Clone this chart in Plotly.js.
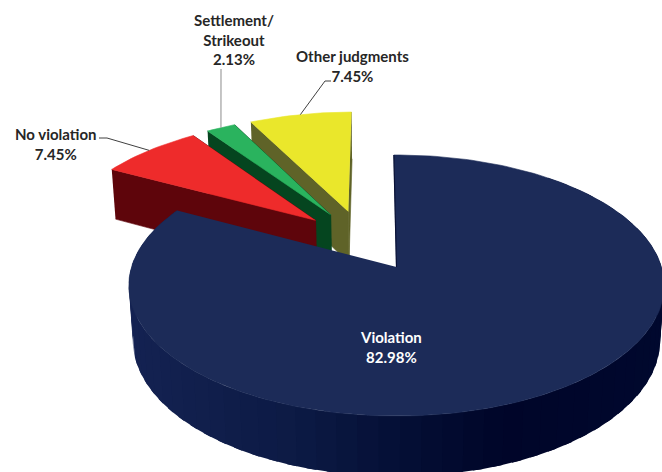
<!DOCTYPE html>
<html>
<head>
<meta charset="utf-8">
<script src="https://cdn.plot.ly/plotly-3.0.1.min.js"></script>
<style>html,body{margin:0;padding:0;background:#fff}#chart{width:662px;height:472px}</style>
</head>
<body>
<div id="chart"></div>
<script>
// Data, clockwise from 12 o'clock
const categories = ['Violation', 'No violation', 'Settlement/<br>Strikeout', 'Other judgments'];
const values = [82.98, 7.45, 2.13, 7.45];
const topColors = ['#1c2b58', '#ee2b2b', '#2ab35e', '#eae72b'];
const wallColors = ['#0b1640', '#5e050b', '#05451f', '#5f6328'];
const textColors = ['#ffffff', '#262626', '#262626', '#262626'];

// Camera model of the tilted, exploded pie
const CX = 396.5, CY = 267, RX = 265, RY = 127.9, K = 0.1418;
const HD = 55, MD = 0.015, EXPLODE = 0.254, START = -0.65;
const rad = d => d * Math.PI / 180;
function project(u, v, low) {
  const f = 1 / (1 + K * v + (low ? MD : 0));
  return [CX + RX * u * f, CY + ((low ? HD : 0) - RY * v) * f];
}

const total = values.reduce((a, b) => a + b, 0);
let acc = 0;
const slices = values.map(val => {
  const a0 = acc / total * 360; acc += val; const a1 = acc / total * 360;
  return {a0: a0 + START, a1: a1 + START, mid: (a0 + a1) / 2 + START};
});
// every slice moves out from a common hub; the hub sits so that the first slice apex is at the origin
const hubU = -EXPLODE * Math.sin(rad(slices[0].mid));
const hubV = -EXPLODE * Math.cos(rad(slices[0].mid));
slices.forEach(s => {
  s.u0 = hubU + EXPLODE * Math.sin(rad(s.mid));
  s.v0 = hubV + EXPLODE * Math.cos(rad(s.mid));
});
const rimPt = (s, a, low) => project(s.u0 + Math.sin(rad(a)), s.v0 + Math.cos(rad(a)), low);
const apexPt = (s, low) => project(s.u0, s.v0, low);

function poly(pts, fill, lineW, lineC) {
  return {type: 'scatter', mode: 'lines', hoverinfo: 'skip', showlegend: false,
    x: pts.map(p => p[0]), y: pts.map(p => p[1]), fill: 'toself', fillcolor: fill,
    line: {color: lineC || fill, width: lineW === undefined ? 0.6 : lineW}};
}
function arc(s, low, from, to) {
  const out = [], n = Math.max(2, Math.ceil(Math.abs(to - from) / 1.5));
  for (let i = 0; i <= n; i++) out.push(rimPt(s, from + (to - from) * i / n, low));
  return out;
}
function radialWall(s, a, color) {
  return poly([rimPt(s, a, false), apexPt(s, false), apexPt(s, true), rimPt(s, a, true)], color);
}
function topFace(s, color) {
  return poly([apexPt(s, false)].concat(arc(s, false, s.a0, s.a1)), color);
}

// Shaded outer wall of the big slice
const shadeStops = [[130, [20, 34, 82]], [300, [12, 26, 68]], [400, [4, 15, 53]], [500, [0, 5, 41]], [662, [0, 8, 46]]];
function shade(x) {
  for (let i = 1; i < shadeStops.length; i++) {
    if (x <= shadeStops[i][0]) {
      const [x0, c0] = shadeStops[i - 1], [x1, c1] = shadeStops[i];
      const t = Math.max(0, (x - x0) / (x1 - x0));
      return 'rgb(' + c0.map((c, j) => Math.round(c + (c1[j] - c) * t)).join(',') + ')';
    }
  }
  return 'rgb(0,8,46)';
}

const traces = [];
// back slices first: Other judgments, Settlement, No violation
[3, 2, 1].forEach(i => {
  const s = slices[i];
  traces.push(radialWall(s, s.a1, wallColors[i]));
  traces.push(radialWall(s, s.a0, wallColors[i]));
  traces.push(topFace(s, topColors[i]));
});
// front slice: outer wall in strips painted from the far ends inward, each overlapping the next
const big = slices[0];
for (let a = big.a0 + 40; a < big.a1 - 2; a += 4) {
  const b = Math.min(a + 6, big.a1);
  const up = arc(big, false, a, b), lo = arc(big, true, b, a);
  const col = shade(rimPt(big, a + 2, true)[0]);
  traces.push(poly(up.concat(lo, [up[0]]), col, 0));
}
traces.push(topFace(big, topColors[0]));
// thin dark edge of the cut
const edge = [apexPt(big, false), rimPt(big, big.a0, false)];
traces.push({type: 'scatter', mode: 'lines', hoverinfo: 'skip', showlegend: false,
  x: edge.map(p => p[0]), y: edge.map(p => p[1]), line: {color: '#0a1236', width: 1.2}});

// Leader lines run from each rim midpoint to the label
const leaderEnds = {1: [[107, 138], [99, 138]], 2: [[221, 69]], 3: [[325, 81], [331, 81]]};
Object.keys(leaderEnds).forEach(k => {
  const s = slices[k];
  const pts = [rimPt(s, s.mid, false)].concat(leaderEnds[k]);
  traces.push({type: 'scatter', mode: 'lines', hoverinfo: 'skip', showlegend: false,
    x: pts.map(p => p[0]), y: pts.map(p => p[1]),
    line: {color: k === '2' ? '#8c8c8c' : '#404040', width: 1}});
});

const labelAt = [[391, 347], [56, 144], [234, 39.5], [352.5, 66]];
const annotations = categories.map((c, i) => ({
  xref: 'x', yref: 'y', x: labelAt[i][0], y: labelAt[i][1], xanchor: 'center', yanchor: 'middle',
  showarrow: false, align: 'center', text: c + '<br>' + values[i].toFixed(2) + '%',
  font: {family: 'Lato, "Open Sans", sans-serif', size: 15, weight: 700, color: textColors[i]}
}));

const hidden = {visible: false, fixedrange: true};
Plotly.newPlot('chart', traces, {
  width: 662, height: 472, margin: {l: 0, r: 0, t: 0, b: 0},
  paper_bgcolor: '#ffffff', plot_bgcolor: '#ffffff', showlegend: false,
  xaxis: Object.assign({range: [0, 662]}, hidden),
  yaxis: Object.assign({range: [472, 0]}, hidden),
  annotations: annotations
}, {displayModeBar: false, staticPlot: true});
</script>
</body>
</html>
